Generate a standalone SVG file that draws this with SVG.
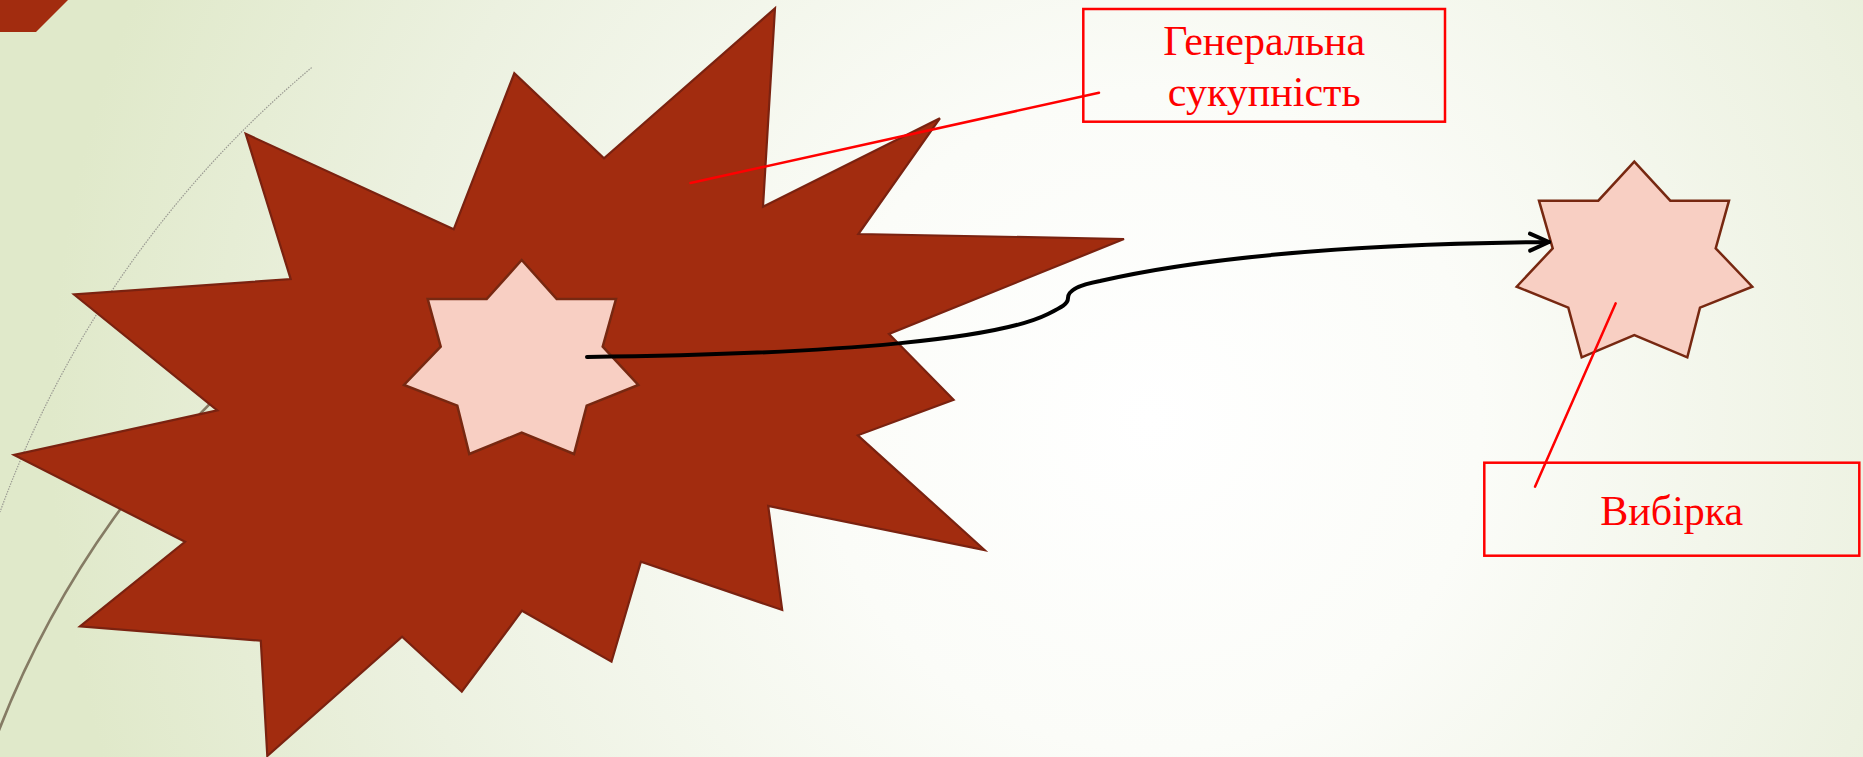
<svg xmlns="http://www.w3.org/2000/svg" width="1863" height="757" viewBox="0 0 1863 757">
  <defs>
    <radialGradient id="bg" cx="1150" cy="420" r="1100" gradientUnits="userSpaceOnUse">
      <stop offset="0" stop-color="#ffffff"/>
      <stop offset="0.3" stop-color="#fbfcf8"/>
      <stop offset="0.7" stop-color="#ecf1e0"/>
      <stop offset="1" stop-color="#e0e9ca"/>
    </radialGradient>
    <marker id="openArrow" viewBox="0 0 24 24" refX="21" refY="10" markerWidth="24" markerHeight="24" markerUnits="userSpaceOnUse" orient="auto" overflow="visible">
      <path d="M2,1.5 L21,10 L2,18.5" fill="none" stroke="#000" stroke-width="4" stroke-linecap="round" stroke-linejoin="round"/>
    </marker>
    <style>
      .bigstar { fill: #a22c0f; stroke: #7a2210; stroke-width: 2.2; stroke-linejoin: miter; }
      .smallstar { fill: #f8cfc3; stroke: #772811; stroke-width: 2.5; stroke-linejoin: miter; }
      .callout { stroke: #ff0000; stroke-width: 2.5; fill: none; stroke-linecap: round; }
      .box { fill: none; stroke: #ff0000; stroke-width: 2.5; }
      .label { font-family: "Liberation Serif", "Times New Roman", serif; font-size: 42px; fill: #ff0000; text-anchor: middle; }
      .conn { fill: none; stroke: #000; stroke-width: 4; stroke-linecap: round; }
    </style>
  </defs>

  <rect x="0" y="0" width="1863" height="757" fill="url(#bg)"/>

  <g id="decor">
    <path d="M311.7,67.6 A1047,1047 0 0 0 0,512" fill="none" stroke="#9a9a92" stroke-width="1.2" stroke-dasharray="1.5,1.2"/>
    <path d="M-11,757 A968,968 0 0 1 300,322.8" fill="none" stroke="#857b64" stroke-width="2.6"/>
    <polygon points="0,0 68,0 36,32 0,32" fill="#a22c0f"/>
  </g>

  <g id="population">
    <polygon class="bigstar" points="775,8.3 763,206.7 939.9,118.3 858.4,234 1124,239 889,334 953.6,399.7 857.8,435.3 984.6,550 768.2,506 782.2,610 640.9,561.7 611.5,661.7 522,610.7 461.8,691.7 402.1,636.7 267.3,756 260.8,640.7 80,626.3 185,541.8 14,454.9 217.3,410.4 74,294.5 290.7,279.1 245.7,133.8 453.7,229.3 514.3,73.3 604,158.3"/>
  </g>

  <g id="inner-sample">
    <polygon class="smallstar" points="521.7,260 486.7,299 427.7,299 440.7,346.7 404,385 457.3,405.7 469.3,454 521.7,432.7 574,454 586.7,405.7 638.3,385 602.7,346.7 616,299 556.7,299"/>
  </g>

  <g id="sample">
    <polygon class="smallstar" points="1634.3,161.7 1598.3,200.7 1539,200.7 1552.7,248.3 1516.7,286.7 1568.3,307.7 1581.7,357.3 1634.3,335 1687.3,357.3 1700,307.7 1752.3,286.7 1715.7,248.3 1729,200.7 1670.3,200.7"/>
  </g>

  <g id="connectors">
    <path class="conn" marker-end="url(#openArrow)" d="M587,357 C850,354 1000,338 1048,314 C1062,307 1068,304 1068,298 C1068,291 1078,285 1100,281 C1200,258 1350,244 1549,242"/>
    <line class="callout" x1="1099" y1="92.7" x2="690.5" y2="183"/>
    <line class="callout" x1="1615.7" y1="303.3" x2="1535" y2="486.7"/>
  </g>

  <g id="label-population">
    <rect class="box" x="1083.3" y="9" width="361.7" height="112.7"/>
    <text class="label" x="1264.2" y="55">Генеральна</text>
    <text class="label" x="1264.2" y="106">сукупність</text>
  </g>

  <g id="label-sample">
    <rect class="box" x="1484.3" y="462.7" width="375" height="93"/>
    <text class="label" x="1671.8" y="525">Вибірка</text>
  </g>
</svg>
